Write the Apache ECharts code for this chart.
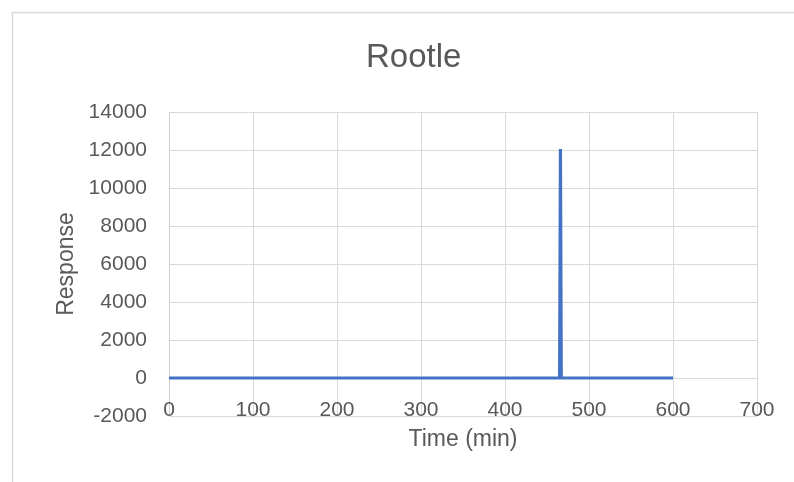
<!DOCTYPE html>
<html>
<head>
<meta charset="utf-8">
<script src="https://cdn.jsdelivr.net/npm/echarts@6/dist/echarts.min.js"></script>
<style>html,body{margin:0;padding:0;background:#fff}#c{width:794px;height:482px}</style>
</head>
<body>
<div id="c"></div>
<script>
var chartTitle = 'Rootle';
var xName = 'Time (min)';
var yName = 'Response';
var times = [0, 465, 466, 467, 600];
var responses = [0, 0, 12050, 0, 0];
var xTicks = [0, 100, 200, 300, 400, 500, 600, 700];
var yTicks = [-2000, 0, 2000, 4000, 6000, 8000, 10000, 12000, 14000];

var txt = '#595959';
var font = '"Liberation Sans", Arial, sans-serif';
var gridTop = 112, gridBottom = 66;
var plotH = 482 - gridTop - gridBottom;
var yMin = yTicks[0], yMax = yTicks[yTicks.length - 1];
// shift x axis up to the zero line (in pixels, from the axis scale)
var zeroOffset = -plotH * (0 - yMin) / (yMax - yMin);

var chart = echarts.init(document.getElementById('c'), null, {renderer: 'canvas'});
chart.setOption({
  animation: false,
  backgroundColor: '#fff',
  title: {
    text: chartTitle,
    left: 361, top: 36,
    textStyle: {color: txt, fontSize: 33, fontWeight: 'normal', fontFamily: font}
  },
  graphic: [{
    type: 'rect',
    shape: {x: 12.5, y: 12.5, width: 800, height: 500},
    style: {fill: 'none', stroke: '#d9d9d9', lineWidth: 1.5},
    silent: true
  }],
  grid: {left: 169, right: 37, top: gridTop, bottom: gridBottom, outerBoundsMode: 'none', containLabel: false},
  xAxis: {
    type: 'value',
    min: xTicks[0], max: xTicks[xTicks.length - 1], interval: 100,
    offset: zeroOffset,
    name: xName, nameLocation: 'middle', nameGap: 50,
    nameTextStyle: {color: txt, fontSize: 23, fontFamily: font},
    axisLine: {show: true, onZero: false, lineStyle: {color: '#d9d9d9', width: 1}},
    axisTick: {show: false},
    axisLabel: {color: txt, fontSize: 21, fontFamily: font, margin: 22,
      formatter: function (v) { return String(v); }},
    splitLine: {show: true, lineStyle: {color: '#d9d9d9', width: 1}}
  },
  yAxis: {
    type: 'value',
    min: yMin, max: yMax, interval: 2000,
    name: yName, nameLocation: 'middle', nameGap: 83,
    nameTextStyle: {color: txt, fontSize: 23, fontFamily: font},
    axisLine: {show: true, onZero: false, lineStyle: {color: '#d0d0d0', width: 1}},
    axisTick: {show: false},
    axisLabel: {color: txt, fontSize: 21, fontFamily: font, margin: 22,
      formatter: function (v) { return String(v); }},
    splitLine: {show: true, lineStyle: {color: '#d9d9d9', width: 1}}
  },
  series: [{
    type: 'line',
    data: times.map(function (t, i) { return [t, responses[i]]; }),
    showSymbol: false,
    symbol: 'none',
    lineStyle: {color: '#4472C4', width: 3.2, join: 'miter'},
    itemStyle: {color: '#4472C4'}
  }]
});
</script>
</body>
</html>
